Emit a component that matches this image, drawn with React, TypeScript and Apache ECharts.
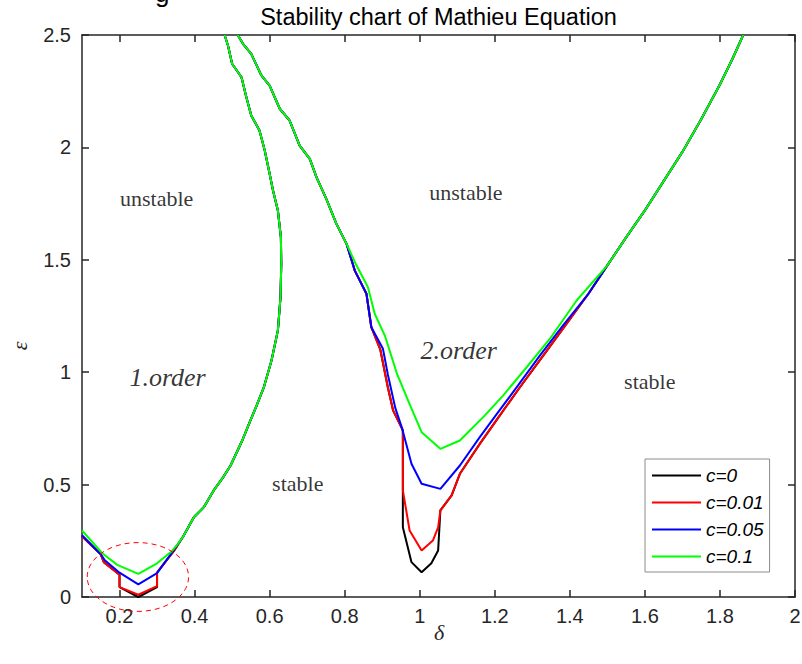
import React, { useEffect, useRef } from "react";
import * as echarts from "echarts";

// ---------- data ----------
const seriesNames = ["c=0", "c=0.01", "c=0.05", "c=0.1"];
const seriesColors = ["#000000", "#ff0000", "#0000ff", "#00ff00"];
const deltaTicks = [0.2, 0.4, 0.6, 0.8, 1.0, 1.2, 1.4, 1.6, 1.8, 2.0];

// first-order tongue: shared upper part (all c coincide)
const t1Upper: number[][] = [
  [0.37, 0.27], [0.398, 0.355], [0.425, 0.4], [0.451, 0.474], [0.475, 0.53],
  [0.496, 0.585], [0.527, 0.696], [0.545, 0.77], [0.565, 0.85], [0.585, 0.935],
  [0.605, 1.052], [0.622, 1.186], [0.629, 1.334], [0.631, 1.482], [0.63, 1.6],
  [0.622, 1.719], [0.609, 1.808], [0.6, 1.883], [0.587, 1.986], [0.573, 2.075],
  [0.551, 2.142], [0.538, 2.223], [0.525, 2.312], [0.5, 2.372], [0.489, 2.453],
  [0.48, 2.5],
];
// first-order tongue: bottom parts
const t1Black: number[][] = [
  [0.1, 0.27], [0.15, 0.19], [0.158, 0.155], [0.2, 0.099], [0.2, 0.044],
  [0.25, 0.0], [0.3, 0.044], [0.3, 0.109], [0.345, 0.205],
];
const t1Red: number[][] = [
  [0.1, 0.27], [0.15, 0.19], [0.158, 0.155], [0.2, 0.099], [0.2, 0.044],
  [0.25, 0.01], [0.3, 0.048], [0.3, 0.109], [0.345, 0.205],
];
const t1Blue: number[][] = [
  [0.1, 0.275], [0.15, 0.19], [0.16, 0.165], [0.2, 0.108], [0.25, 0.056],
  [0.3, 0.106], [0.345, 0.21],
];
const t1Green: number[][] = [
  [0.1, 0.296], [0.154, 0.195], [0.194, 0.143], [0.25, 0.103], [0.3, 0.15],
  [0.34, 0.205], [0.355, 0.235],
];

// second-order tongue: shared left branch (from top downward)
const t2Upper: number[][] = [
  [0.515, 2.5], [0.529, 2.461], [0.551, 2.416], [0.578, 2.32], [0.6, 2.275],
  [0.627, 2.172], [0.653, 2.12], [0.68, 2.008], [0.707, 1.949], [0.725, 1.867],
  [0.751, 1.771], [0.778, 1.66], [0.805, 1.571], [0.827, 1.452], [0.858, 1.349],
  [0.871, 1.2],
];
// second-order tongue: lower parts per c
const t2Black: number[][] = [
  [0.895, 1.1], [0.915, 0.933], [0.929, 0.83], [0.955, 0.741], [0.955, 0.31],
  [0.978, 0.155], [1.005, 0.11], [1.031, 0.15], [1.049, 0.207], [1.055, 0.385],
  [1.085, 0.452], [1.107, 0.548], [1.16, 0.681], [1.213, 0.807], [1.267, 0.933],
  [1.329, 1.074], [1.391, 1.215],
];
const t2Red: number[][] = [
  [0.895, 1.1], [0.915, 0.933], [0.929, 0.83], [0.955, 0.741], [0.955, 0.474],
  [0.973, 0.296], [1.005, 0.207], [1.035, 0.251], [1.049, 0.31], [1.055, 0.385],
  [1.085, 0.452], [1.107, 0.548], [1.16, 0.681], [1.213, 0.807], [1.267, 0.933],
  [1.329, 1.074], [1.391, 1.215],
];
const t2Blue: number[][] = [
  [0.902, 1.104], [0.915, 0.99], [0.935, 0.84], [0.953, 0.75], [0.978, 0.593],
  [1.005, 0.504], [1.055, 0.481], [1.107, 0.585], [1.16, 0.711], [1.209, 0.822],
  [1.262, 0.941], [1.32, 1.074], [1.382, 1.208],
];
const t2Green: number[][] = [
  [0.83, 1.48], [0.862, 1.378], [0.88, 1.26], [0.907, 1.163], [0.94, 0.99],
  [0.975, 0.85], [1.005, 0.733], [1.055, 0.659], [1.107, 0.696], [1.173, 0.807],
  [1.222, 0.896], [1.285, 1.022], [1.347, 1.149], [1.418, 1.319],
];
// second-order tongue: shared right branch (upward to top)
const t2Right: number[][] = [
  [1.45, 1.35], [1.5, 1.475], [1.55, 1.6], [1.6, 1.72], [1.65, 1.85],
  [1.7, 1.98], [1.75, 2.125], [1.8, 2.28], [1.835, 2.4], [1.862, 2.5],
];

// text annotations [delta, epsilon]
const annoTexts = ["unstable", "unstable", "1.order", "2.order", "stable", "stable"];
const annoX = [0.299, 1.123, 0.328, 1.104, 0.675, 1.613];
const annoY = [1.773, 1.8, 0.976, 1.097, 0.505, 0.959];
const annoItalic = [false, false, true, true, false, false];

// dashed ellipse: [cx, cy, rx, ry] in data units
const ellipseData = [[0.249, 0.089, 0.135, 0.153]];

// ---------- build ----------
const SANS = "'Liberation Sans', Arial, Helvetica, sans-serif";
const SERIF = "'Liberation Serif', 'Times New Roman', serif";
const AX = "#262626";

const t1Parts = [
  [...t1Black, ...t1Upper],
  [...t1Red, ...t1Upper],
  [...t1Blue, ...t1Upper],
  [...t1Green, ...t1Upper],
];
const t2Parts = [
  [...t2Upper, ...t2Black, ...t2Right],
  [...t2Upper, ...t2Red, ...t2Right],
  [...t2Upper, ...t2Blue, ...t2Right],
  [...t2Upper.slice(0, 13), ...t2Green, ...t2Right.slice(1)],
];

function buildOption(): any {
  const series: any[] = [];
  seriesNames.forEach((name, i) => {
    [t1Parts[i], t2Parts[i]].forEach((d) => {
      series.push({
        name,
        type: "line",
        data: d,
        showSymbol: false,
        symbol: "none",
        color: seriesColors[i],
        lineStyle: { color: seriesColors[i], width: 2 },
        z: 2 + i,
        silent: true,
      });
    });
  });
  series.push({
    type: "custom",
    clip: false,
    silent: true,
    z: 10,
    data: ellipseData,
    renderItem: (_p: any, api: any) => {
      const c = api.coord([api.value(0), api.value(1)]);
      const s = api.size([api.value(2), api.value(3)]);
      return {
        type: "ellipse",
        shape: { cx: c[0], cy: c[1], rx: s[0], ry: s[1] },
        style: { fill: "none", stroke: "#ff0000", lineWidth: 1, lineDash: [5, 4] },
      };
    },
  });
  series.push({
    type: "scatter",
    symbolSize: 0,
    silent: true,
    z: 11,
    data: annoTexts.map((t, i) => ({
      value: [annoX[i], annoY[i]],
      label: {
        show: true,
        position: "inside",
        formatter: t,
        fontFamily: SERIF,
        fontStyle: annoItalic[i] ? "italic" : "normal",
        fontSize: annoItalic[i] ? 26 : 22,
        color: "#000",
      },
    })),
  });

  const xCommon = {
    type: "value",
    min: 0.1,
    max: 2,
    splitLine: { show: false },
    axisLine: { show: true, onZero: false, lineStyle: { color: AX, width: 1.5 } },
    axisTick: { show: true, inside: true, length: 7, customValues: deltaTicks, lineStyle: { color: AX, width: 1.5 } },
  };
  const yCommon = {
    type: "value",
    min: 0,
    max: 2.5,
    interval: 0.5,
    splitLine: { show: false },
    axisLine: { show: true, onZero: false, lineStyle: { color: AX, width: 1.5 } },
    axisTick: { show: true, inside: true, length: 7, lineStyle: { color: AX, width: 1.5 } },
  };

  return {
    animation: false,
    backgroundColor: "#ffffff",
    grid: { left: 82, right: 7, top: 35, bottom: 67, containLabel: false, outerBoundsMode: "none" },
    legend: {
      data: seriesNames,
      orient: "vertical",
      left: 645,
      top: 459,
      align: "left",
      icon: "rect",
      itemWidth: 49,
      itemHeight: 2,
      itemGap: 4,
      padding: [5, 6, 4, 7],
      backgroundColor: "#ffffff",
      borderColor: "#8c8c8c",
      borderWidth: 1,
      borderRadius: 0,
      selectedMode: false,
      textStyle: { fontFamily: SANS, fontStyle: "italic", fontSize: 19, lineHeight: 23, color: "#000" },
    },
    graphic: [
      {
        type: "text",
        x: 438.5,
        y: 17,
        style: {
          text: "Stability chart of Mathieu Equation",
          fontFamily: SANS,
          fontSize: 23.5,
          fill: "#000",
          align: "center",
          verticalAlign: "middle",
        },
      },
      {
        type: "text",
        x: 155,
        y: -20,
        style: { text: "g", fontFamily: SANS, fontSize: 26, fill: "#000", align: "left", verticalAlign: "top" },
      },
      {
        type: "text",
        x: 19,
        y: 346,
        rotation: Math.PI / 2,
        style: {
          text: "ε",
          fontFamily: SERIF,
          fontStyle: "italic",
          fontSize: 22,
          fill: AX,
          align: "center",
          verticalAlign: "middle",
        },
      },
      {
        type: "text",
        x: 439,
        y: 632,
        style: {
          text: "δ",
          fontFamily: SERIF,
          fontStyle: "italic",
          fontSize: 22,
          fill: AX,
          align: "center",
          verticalAlign: "middle",
        },
      },
    ],
    xAxis: [
      {
        ...xCommon,
        position: "bottom",
        axisLabel: { show: true, customValues: deltaTicks, margin: 9, fontFamily: SANS, fontSize: 20, color: AX },
      },
      { ...xCommon, position: "top", axisLabel: { show: false } },
    ],
    yAxis: [
      {
        ...yCommon,
        position: "left",
        axisLabel: { show: true, margin: 11, fontFamily: SANS, fontSize: 20, color: AX },
      },
      { ...yCommon, position: "right", axisLabel: { show: false } },
    ],
    series,
  };
}

export default function App() {
  const ref = useRef<HTMLDivElement>(null);
  useEffect(() => {
    if (!ref.current) return;
    const chart = echarts.init(ref.current, null, { renderer: "svg" });
    chart.setOption(buildOption());
    return () => chart.dispose();
  }, []);
  return (
    <div
      ref={ref}
      style={{ position: "absolute", left: 0, top: 0, width: 802, height: 664, background: "#fff" }}
    />
  );
}
